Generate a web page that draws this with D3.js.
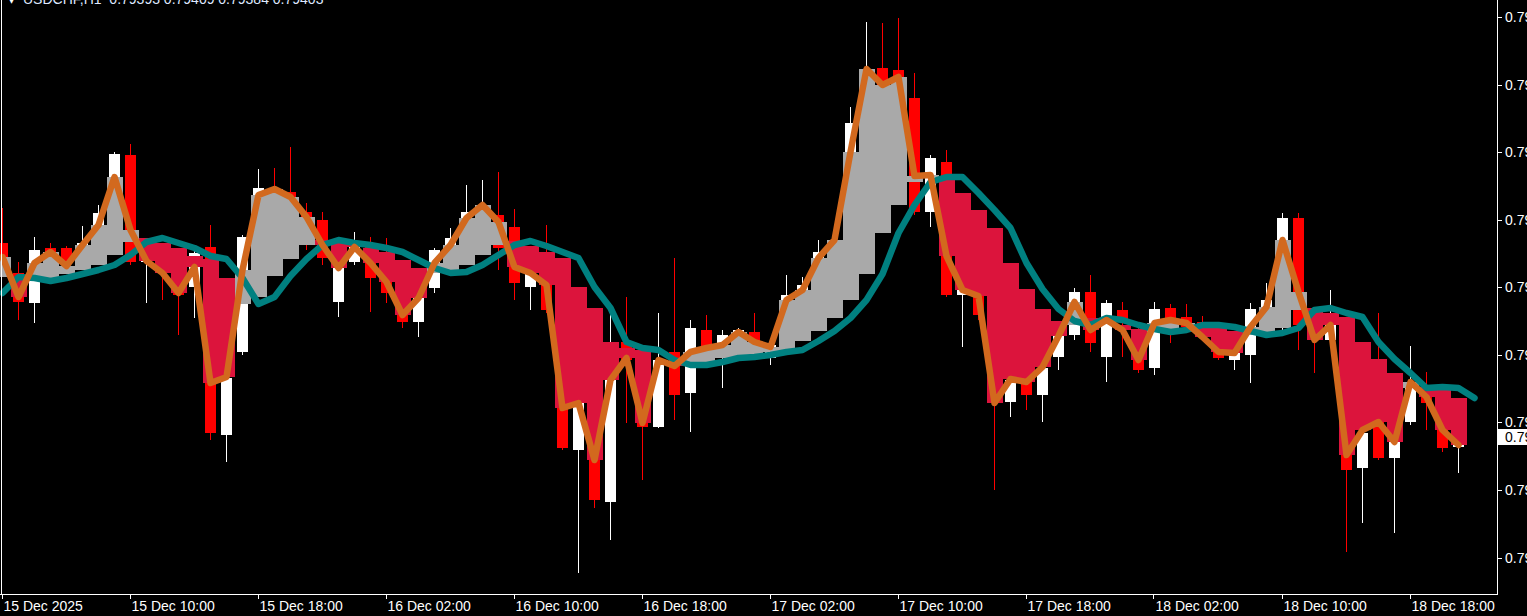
<!DOCTYPE html>
<html><head><meta charset="utf-8">
<script src="https://cdn.jsdelivr.net/npm/d3@7"></script>
<style>
html,body{margin:0;padding:0;background:#000;overflow:hidden}
svg{display:block}
text{font-family:"Liberation Sans",Arial,sans-serif}
</style></head><body>
<svg id="c" width="1527" height="616"></svg>
<script>
// ---------- data ----------
const symbolTitle = "USDCHF,H1";
const headerQuote = ["0.79393", "0.79409", "0.79384", "0.79403"];
const lastPrice = 0.79403;

const timeLabels = ["15 Dec 2025", "15 Dec 10:00", "15 Dec 18:00", "16 Dec 02:00", "16 Dec 10:00", "16 Dec 18:00",
  "17 Dec 02:00", "17 Dec 10:00", "17 Dec 18:00", "18 Dec 02:00", "18 Dec 10:00", "18 Dec 18:00"];
const timeLabelBars = [0, 8, 16, 24, 32, 40, 48, 56, 64, 72, 80, 88];

const priceTicks = [0.79823, 0.79755, 0.79688, 0.79620, 0.79553, 0.79485, 0.79418, 0.79350, 0.79282];

const openP = [0.79597,0.79567,0.79537,0.79592,0.79592,0.79580,0.79594,0.79627,0.79685,0.79578,
  0.79590,0.79575,0.79553,0.79593,0.79405,0.79488,0.79603,0.79652,0.79648,0.79628,
  0.79620,0.79538,0.79578,0.79594,0.79573,0.79544,0.79518,0.79552,0.79578,0.79602,
  0.79628,0.79625,0.79613,0.79553,0.79570,0.79530,0.79390,0.79455,0.79338,0.79498,
  0.79480,0.79413,0.79488,0.79447,0.79510,0.79485,0.79500,0.79508,0.79482,0.79495,
  0.79545,0.79550,0.79588,0.79600,0.79717,0.79772,0.79770,0.79742,0.79628,0.79678,
  0.79545,0.79550,0.79535,0.79438,0.79460,0.79445,0.79483,0.79505,0.79548,0.79483,
  0.79530,0.79505,0.79472,0.79532,0.79523,0.79518,0.79505,0.79480,0.79485,0.79520,
  0.79512,0.79622,0.79515,0.79500,0.79510,0.79372,0.79425,0.79382,0.79418,0.79450,
  0.79435,0.79393];
const highP = [0.79632,0.79578,0.79603,0.79597,0.79594,0.79614,0.79635,0.79688,0.79696,0.79600,
  0.79595,0.79582,0.79590,0.79615,0.79465,0.79605,0.79671,0.79672,0.79693,0.79637,
  0.79628,0.79585,0.79608,0.79603,0.79602,0.79550,0.79550,0.79592,0.79612,0.79655,
  0.79660,0.79668,0.79631,0.79578,0.79615,0.79535,0.79465,0.79462,0.79537,0.79543,
  0.79495,0.79527,0.79582,0.79520,0.79525,0.79510,0.79512,0.79527,0.79500,0.79565,
  0.79563,0.79600,0.79605,0.79733,0.79818,0.79817,0.79822,0.79767,0.79685,0.79690,
  0.79565,0.79555,0.79540,0.79462,0.79465,0.79475,0.79510,0.79552,0.79565,0.79540,
  0.79538,0.79515,0.79538,0.79536,0.79536,0.79524,0.79510,0.79495,0.79537,0.79557,
  0.79627,0.79627,0.79520,0.79550,0.79515,0.79410,0.79527,0.79405,0.79494,0.79468,
  0.79440,0.79409];
const lowP = [0.79570,0.79520,0.79517,0.79578,0.79572,0.79577,0.79590,0.79624,0.79575,0.79537,
  0.79540,0.79505,0.79522,0.79400,0.79378,0.79485,0.79600,0.79640,0.79620,0.79590,
  0.79575,0.79523,0.79575,0.79528,0.79537,0.79512,0.79503,0.79547,0.79575,0.79598,
  0.79625,0.79570,0.79540,0.79530,0.79527,0.79390,0.79267,0.79332,0.79300,0.79417,
  0.79360,0.79412,0.79420,0.79408,0.79490,0.79452,0.79495,0.79495,0.79475,0.79492,
  0.79542,0.79548,0.79585,0.79595,0.79715,0.79750,0.79745,0.79625,0.79613,0.79543,
  0.79493,0.79520,0.79350,0.79423,0.79430,0.79418,0.79470,0.79500,0.79488,0.79458,
  0.79483,0.79467,0.79465,0.79497,0.79510,0.79500,0.79480,0.79470,0.79457,0.79515,
  0.79510,0.79490,0.79467,0.79495,0.79288,0.79317,0.79380,0.79307,0.79415,0.79410,
  0.79388,0.79367];
const closeP = [0.79578,0.79538,0.79590,0.79584,0.79577,0.79597,0.79627,0.79686,0.79578,0.79592,
  0.79570,0.79545,0.79587,0.79407,0.79462,0.79603,0.79652,0.79644,0.79625,0.79595,
  0.79582,0.79578,0.79594,0.79562,0.79547,0.79518,0.79542,0.79590,0.79602,0.79628,
  0.79635,0.79592,0.79557,0.79570,0.79530,0.79392,0.79455,0.79340,0.79498,0.79480,
  0.79413,0.79480,0.79445,0.79512,0.79493,0.79505,0.79510,0.79497,0.79495,0.79545,
  0.79555,0.79588,0.79600,0.79717,0.79770,0.79755,0.79762,0.79628,0.79682,0.79545,
  0.79560,0.79525,0.79437,0.79460,0.79445,0.79472,0.79505,0.79548,0.79497,0.79537,
  0.79520,0.79470,0.79531,0.79522,0.79513,0.79505,0.79482,0.79490,0.79531,0.79540,
  0.79622,0.79515,0.79505,0.79515,0.79370,0.79407,0.79382,0.79400,0.79458,0.79437,
  0.79392,0.79403];

// fast moving average (orange), one value per bar
const fastMA = [0.79583,0.79543,0.79577,0.79588,0.79574,0.79595,0.79615,0.79663,0.79610,0.79579,
  0.79567,0.79547,0.79573,0.79457,0.79463,0.79570,0.79645,0.79651,0.79643,0.79623,
  0.79595,0.79572,0.79593,0.79577,0.79558,0.79525,0.79542,0.79577,0.79595,0.79622,
  0.79635,0.79618,0.79573,0.79567,0.79555,0.79432,0.79437,0.79380,0.79460,0.79482,
  0.79417,0.79480,0.79474,0.79488,0.79492,0.79495,0.79508,0.79498,0.79493,0.79540,
  0.79550,0.79582,0.79600,0.79688,0.79771,0.79755,0.79763,0.79664,0.79665,0.79584,
  0.79550,0.79544,0.79437,0.79461,0.79458,0.79473,0.79504,0.79538,0.79510,0.79520,
  0.79510,0.79480,0.79517,0.79520,0.79517,0.79503,0.79488,0.79487,0.79513,0.79533,
  0.79600,0.79548,0.79500,0.79515,0.79385,0.79410,0.79418,0.79398,0.79458,0.79443,
  0.79410,0.79395];
// slow moving average (teal), drawn one bar shifted to the right: index i sits at bar i
const slowMA = [0.79547,0.79563,0.79562,0.79559,0.79562,0.79566,0.79570,0.79575,0.79585,0.79598,
  0.79602,0.79597,0.79592,0.79584,0.79581,0.79562,0.79536,0.79543,0.79564,0.79581,
  0.79595,0.79600,0.79597,0.79595,0.79592,0.79588,0.79580,0.79572,0.79567,0.79568,
  0.79575,0.79585,0.79595,0.79599,0.79594,0.79588,0.79582,0.79553,0.79532,0.79498,
  0.79492,0.79490,0.79480,0.79475,0.79475,0.79478,0.79482,0.79483,0.79485,0.79488,
  0.79490,0.79499,0.79509,0.79522,0.79540,0.79566,0.79607,0.79635,0.79658,0.79663,
  0.79663,0.79647,0.79630,0.79612,0.79577,0.79551,0.79531,0.79519,0.79515,0.79522,
  0.79520,0.79515,0.79511,0.79508,0.79510,0.79515,0.79515,0.79513,0.79509,0.79505,
  0.79507,0.79512,0.79530,0.79532,0.79527,0.79523,0.79498,0.79481,0.79467,0.79452,
  0.79453,0.79452,0.79442];

// ---------- drawing ----------
const W = 1527, H = 616, plotR = 1497, plotB = 594;
const svg = d3.select("#c");
svg.append("rect").attr("width", W).attr("height", H).attr("fill", "#000");

const x = d3.scaleLinear().domain([0, 91]).range([2.5, 1458.5]);
const y = d3.scaleLinear().domain([0.7928, 0.7984]).range([560, 0]);

svg.append("clipPath").attr("id", "plot").append("rect")
  .attr("x", 0).attr("y", 0).attr("width", plotR).attr("height", plotB);
const g = svg.append("g").attr("clip-path", "url(#plot)");

const bars = d3.range(openP.length);

// candles
const cg = g.append("g");
cg.selectAll("line.wick").data(bars).join("line")
  .attr("x1", i => x(i)).attr("x2", i => x(i))
  .attr("y1", i => y(highP[i])).attr("y2", i => y(lowP[i]))
  .attr("stroke", i => closeP[i] >= openP[i] ? "#ffffff" : "#ff0000")
  .attr("stroke-width", 1);
cg.selectAll("rect.body").data(bars).join("rect")
  .attr("x", i => x(i) - 5.5)
  .attr("width", 11)
  .attr("y", i => y(Math.max(openP[i], closeP[i])))
  .attr("height", i => Math.max(1, Math.abs(y(openP[i]) - y(closeP[i]))))
  .attr("fill", i => closeP[i] >= openP[i] ? "#ffffff" : "#ff0000");

// fill histogram between fast MA and slow MA
const step = x(1) - x(0);
g.append("g").selectAll("rect").data(bars).join("rect")
  .attr("x", i => x(i) - step / 2)
  .attr("width", step)
  .attr("y", i => Math.min(y(fastMA[i]), y(slowMA[i + 1])))
  .attr("height", i => Math.abs(y(fastMA[i]) - y(slowMA[i + 1])))
  .attr("fill", i => fastMA[i] >= slowMA[i + 1] ? "#a9a9a9" : "#dc143c")
  .attr("shape-rendering", "crispEdges");

// lines
g.append("path")
  .attr("d", d3.line().x((d, i) => x(i)).y(d => y(d))(slowMA))
  .attr("fill", "none").attr("stroke", "#008080").attr("stroke-width", 6.5)
  .attr("stroke-linejoin", "round").attr("stroke-linecap", "round");
g.append("path")
  .attr("d", d3.line().x((d, i) => x(i)).y(d => y(d))(fastMA))
  .attr("fill", "none").attr("stroke", "#d2691e").attr("stroke-width", 6.5)
  .attr("stroke-linejoin", "round").attr("stroke-linecap", "round");

// frame
svg.append("line").attr("x1", 1.5).attr("x2", 1.5).attr("y1", 0).attr("y2", plotB)
  .attr("stroke", "#fff").attr("stroke-width", 1);
svg.append("line").attr("x1", plotR + 0.5).attr("x2", plotR + 0.5).attr("y1", 0).attr("y2", plotB + 0.5)
  .attr("stroke", "#fff").attr("stroke-width", 1);
svg.append("line").attr("x1", 0).attr("x2", plotR + 1).attr("y1", plotB + 0.5).attr("y2", plotB + 0.5)
  .attr("stroke", "#fff").attr("stroke-width", 1);

// price axis
const pa = svg.append("g");
pa.selectAll("line").data(priceTicks).join("line")
  .attr("x1", plotR + 1).attr("x2", plotR + 5)
  .attr("y1", d => Math.round(y(d)) + 0.5).attr("y2", d => Math.round(y(d)) + 0.5)
  .attr("stroke", "#fff");
pa.selectAll("text").data(priceTicks).join("text")
  .attr("x", plotR + 8).attr("y", d => y(d) + 5)
  .attr("fill", "#fff").attr("font-size", 14)
  .text(d => d.toFixed(5));

// current price box
const ly = y(lastPrice);
svg.append("rect").attr("x", plotR + 1).attr("y", ly - 8).attr("width", 40).attr("height", 16).attr("fill", "#fff");
svg.append("text").attr("x", plotR + 8).attr("y", ly + 5).attr("fill", "#000").attr("font-size", 14)
  .text(lastPrice.toFixed(5));

// time axis
const ta = svg.append("g");
ta.selectAll("line").data(timeLabelBars).join("line")
  .attr("x1", i => Math.round(x(i)) - 0.5).attr("x2", i => Math.round(x(i)) - 0.5)
  .attr("y1", plotB).attr("y2", plotB + 5)
  .attr("stroke", "#fff");
ta.selectAll("text").data(timeLabelBars).join("text")
  .attr("x", i => x(i) + 1).attr("y", 611)
  .attr("fill", "#fff").attr("font-size", 14)
  .text((d, k) => timeLabels[k]);

// header
svg.append("text").attr("x", 8).attr("y", 4).attr("fill", "#fff").attr("font-size", 14).text("\u25BE");
svg.append("text").attr("x", 23).attr("y", 4).attr("fill", "#dfe8ff").attr("font-size", 14)
  .attr("xml:space", "preserve")
  .text(symbolTitle + "  " + headerQuote.join(" "));
</script>
</body></html>
